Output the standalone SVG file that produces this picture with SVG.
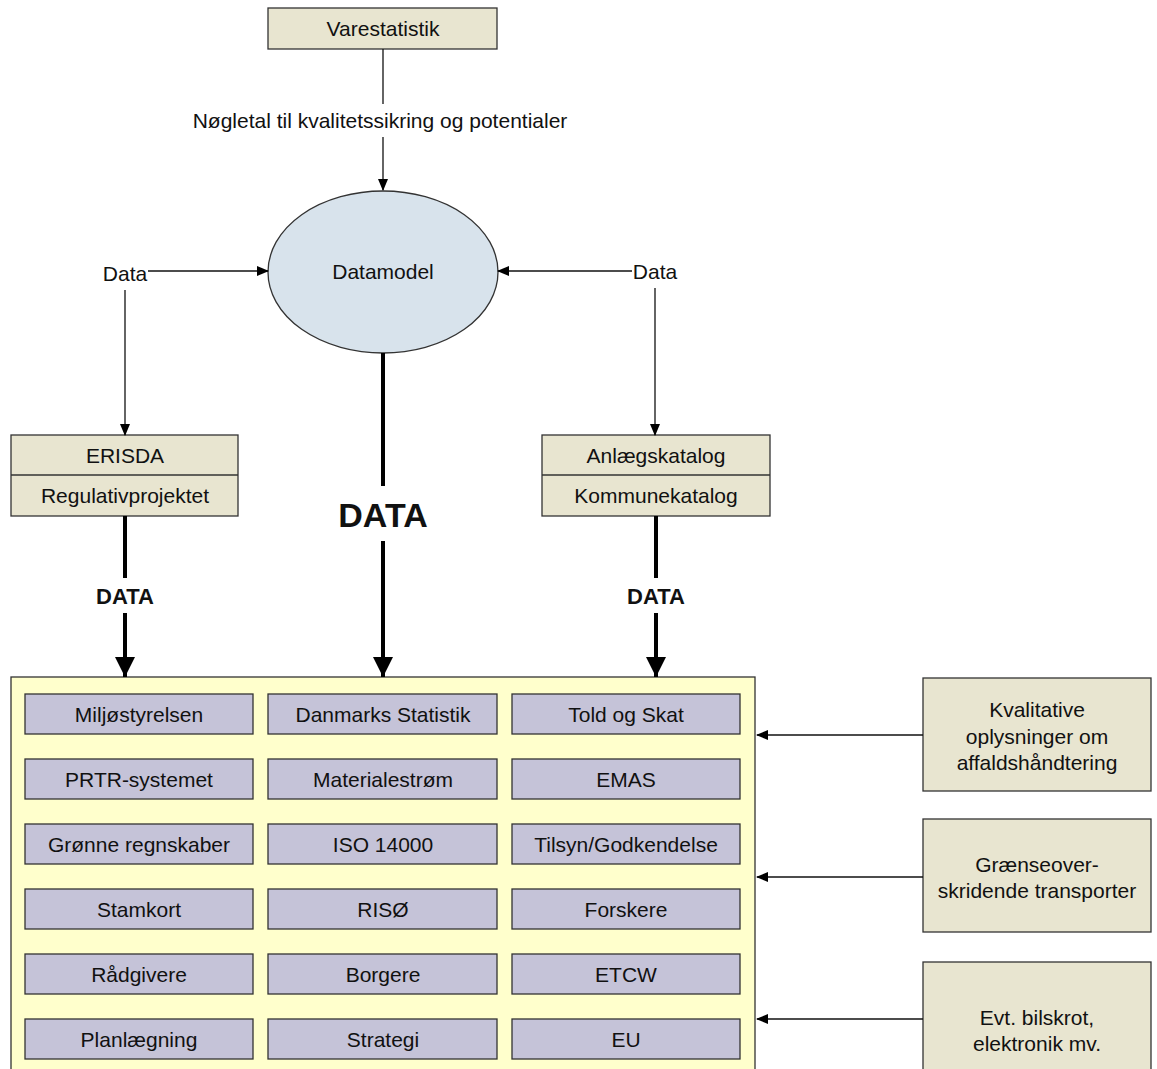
<svg xmlns="http://www.w3.org/2000/svg" width="1157" height="1069" viewBox="0 0 1157 1069">
<style>
text{font-family:"Liberation Sans",Arial,sans-serif;fill:#111;text-anchor:middle}
.t{font-size:21px}
.b{font-size:22px;font-weight:bold}
.tan{fill:#E8E5D0;stroke:#333;stroke-width:1.3}
.lav{fill:#C5C3D8;stroke:#333;stroke-width:1.3}
.thin{stroke:#111;stroke-width:1.3;fill:none}
.thick{stroke:#000;stroke-width:4;fill:none}
</style>
<defs>
<marker id="a" markerWidth="12" markerHeight="10" refX="11" refY="5" orient="auto" markerUnits="userSpaceOnUse"><path d="M0,0 L12,5 L0,10 Z" fill="#000"/></marker>
<marker id="A" markerWidth="20" markerHeight="20" refX="20" refY="10" orient="auto" markerUnits="userSpaceOnUse"><path d="M0,0 L20,10 L0,20 Z" fill="#000"/></marker>
</defs>
<g id="varestatistik"><rect class="tan" x="268" y="8" width="229" height="41"/><text class="t" x="383" y="36">Varestatistik</text></g>
<g id="datamodel"><ellipse cx="383" cy="272" rx="115" ry="81" fill="#D8E3EC" stroke="#333" stroke-width="1.3"/><text class="t" x="383" y="279">Datamodel</text></g>
<g id="erisda"><rect class="tan" x="11" y="435" width="227" height="81"/><line x1="11" y1="475" x2="238" y2="475" stroke="#333" stroke-width="1.3"/><text class="t" x="125" y="463">ERISDA</text><text class="t" x="125" y="503">Regulativprojektet</text></g>
<g id="anlaeg"><rect class="tan" x="542" y="435" width="228" height="81"/><line x1="542" y1="475" x2="770" y2="475" stroke="#333" stroke-width="1.3"/><text class="t" x="656" y="463">Anlægskatalog</text><text class="t" x="656" y="503">Kommunekatalog</text></g>
<g id="container"><rect x="11" y="677" width="744" height="400" fill="#FFFFCC" stroke="#333" stroke-width="1.3"/>
<g id="r1"><rect class="lav" x="25" y="694" width="228" height="40"/><text class="t" x="139" y="722">Miljøstyrelsen</text><rect class="lav" x="268" y="694" width="229" height="40"/><text class="t" x="383" y="722">Danmarks Statistik</text><rect class="lav" x="512" y="694" width="228" height="40"/><text class="t" x="626" y="722">Told og Skat</text></g>
<g id="r2"><rect class="lav" x="25" y="759" width="228" height="40"/><text class="t" x="139" y="787">PRTR-systemet</text><rect class="lav" x="268" y="759" width="229" height="40"/><text class="t" x="383" y="787">Materialestrøm</text><rect class="lav" x="512" y="759" width="228" height="40"/><text class="t" x="626" y="787">EMAS</text></g>
<g id="r3"><rect class="lav" x="25" y="824" width="228" height="40"/><text class="t" x="139" y="852">Grønne regnskaber</text><rect class="lav" x="268" y="824" width="229" height="40"/><text class="t" x="383" y="852">ISO 14000</text><rect class="lav" x="512" y="824" width="228" height="40"/><text class="t" x="626" y="852">Tilsyn/Godkendelse</text></g>
<g id="r4"><rect class="lav" x="25" y="889" width="228" height="40"/><text class="t" x="139" y="917">Stamkort</text><rect class="lav" x="268" y="889" width="229" height="40"/><text class="t" x="383" y="917">RISØ</text><rect class="lav" x="512" y="889" width="228" height="40"/><text class="t" x="626" y="917">Forskere</text></g>
<g id="r5"><rect class="lav" x="25" y="954" width="228" height="40"/><text class="t" x="139" y="982">Rådgivere</text><rect class="lav" x="268" y="954" width="229" height="40"/><text class="t" x="383" y="982">Borgere</text><rect class="lav" x="512" y="954" width="228" height="40"/><text class="t" x="626" y="982">ETCW</text></g>
<g id="r6"><rect class="lav" x="25" y="1019" width="228" height="40"/><text class="t" x="139" y="1047">Planlægning</text><rect class="lav" x="268" y="1019" width="229" height="40"/><text class="t" x="383" y="1047">Strategi</text><rect class="lav" x="512" y="1019" width="228" height="40"/><text class="t" x="626" y="1047">EU</text></g>
</g>
<g id="kvalitative"><rect class="tan" x="923" y="678" width="228" height="113"/><text class="t" x="1037" y="717">Kvalitative</text><text class="t" x="1037" y="744">oplysninger om</text><text class="t" x="1037" y="770">affaldshåndtering</text></g>
<g id="graense"><rect class="tan" x="923" y="819" width="228" height="113"/><text class="t" x="1037" y="872">Grænseover-</text><text class="t" x="1037" y="898">skridende transporter</text></g>
<g id="bilskrot"><rect class="tan" x="923" y="962" width="228" height="113"/><text class="t" x="1037" y="1025">Evt. bilskrot,</text><text class="t" x="1037" y="1051">elektronik mv.</text></g>
<g id="connectors">
<line class="thin" x1="383" y1="49" x2="383" y2="104"/>
<text class="t" x="380" y="128">Nøgletal til kvalitetssikring og potentialer</text>
<line class="thin" x1="383" y1="137" x2="383" y2="190" marker-end="url(#a)"/>
<text class="t" x="125" y="281">Data</text>
<line class="thin" x1="148" y1="271" x2="268" y2="271" marker-end="url(#a)"/>
<line class="thin" x1="125" y1="290" x2="125" y2="435" marker-end="url(#a)"/>
<text class="t" x="655" y="279">Data</text>
<line class="thin" x1="632" y1="271" x2="498" y2="271" marker-end="url(#a)"/>
<line class="thin" x1="655" y1="288" x2="655" y2="435" marker-end="url(#a)"/>
<line class="thick" x1="125" y1="516" x2="125" y2="578"/>
<text class="b" x="125" y="604">DATA</text>
<line class="thick" x1="125" y1="613" x2="125" y2="677" marker-end="url(#A)"/>
<line class="thick" x1="656" y1="516" x2="656" y2="578"/>
<text class="b" x="656" y="604">DATA</text>
<line class="thick" x1="656" y1="613" x2="656" y2="677" marker-end="url(#A)"/>
<line class="thick" x1="383" y1="353" x2="383" y2="486"/>
<text x="383" y="527" style="font-size:34px;font-weight:bold">DATA</text>
<line class="thick" x1="383" y1="541" x2="383" y2="677" marker-end="url(#A)"/>
<line class="thin" x1="923" y1="735" x2="757" y2="735" marker-end="url(#a)"/>
<line class="thin" x1="923" y1="877" x2="757" y2="877" marker-end="url(#a)"/>
<line class="thin" x1="923" y1="1019" x2="757" y2="1019" marker-end="url(#a)"/>
</g>
</svg>
